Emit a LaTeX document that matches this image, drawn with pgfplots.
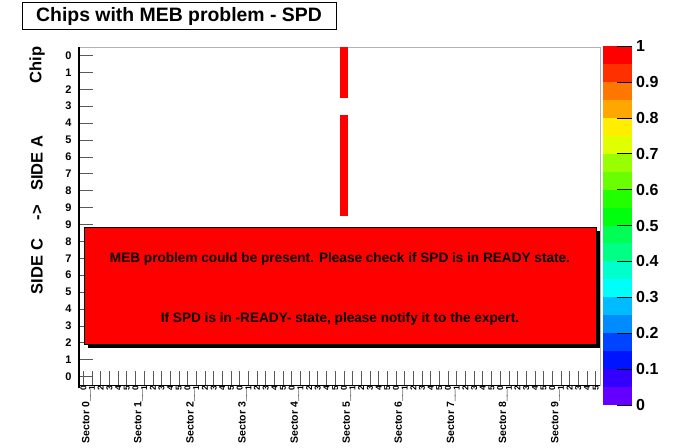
\documentclass[border=0pt]{standalone}
\usepackage{pgfplots}
\pgfplotsset{compat=1.18}
\usepackage{fontspec}
\setmainfont{Liberation Sans}
\usetikzlibrary{shadows}
\definecolor{c0}{RGB}{99,0,255}
\definecolor{c1}{RGB}{51,0,255}
\definecolor{c2}{RGB}{0,20,255}
\definecolor{c3}{RGB}{0,68,255}
\definecolor{c4}{RGB}{0,139,255}
\definecolor{c5}{RGB}{0,187,255}
\definecolor{c6}{RGB}{0,255,251}
\definecolor{c7}{RGB}{0,255,204}
\definecolor{c8}{RGB}{0,255,133}
\definecolor{c9}{RGB}{0,255,85}
\definecolor{c10}{RGB}{0,255,14}
\definecolor{c11}{RGB}{34,255,0}
\definecolor{c12}{RGB}{105,255,0}
\definecolor{c13}{RGB}{153,255,0}
\definecolor{c14}{RGB}{224,255,0}
\definecolor{c15}{RGB}{255,238,0}
\definecolor{c16}{RGB}{255,167,0}
\definecolor{c17}{RGB}{255,119,0}
\definecolor{c18}{RGB}{255,48,0}
\definecolor{c19}{RGB}{255,0,0}
\begin{document}
\begin{tikzpicture}
\useasboundingbox (0pt,0pt) rectangle (677pt,-447pt);
\fill[white] (0pt,0pt) rectangle (677pt,-447pt);
\begin{axis}[
  at={(79pt,-385pt)}, anchor=south west, scale only axis,
  width=521pt, height=338pt,
  xmin=0, xmax=60, ymin=0, ymax=20,
  axis line style={draw=gray!60, line width=0.8pt},
  xtick={0.5,1.5,...,59.5},
  xticklabels={0,1,2,3,4,5,0,1,2,3,4,5,0,1,2,3,4,5,0,1,2,3,4,5,0,1,2,3,4,5,0,1,2,3,4,5,0,1,2,3,4,5,0,1,2,3,4,5,0,1,2,3,4,5,0,1,2,3,4,5},
  ytick={0.5,1.5,...,19.5},
  yticklabels={0,1,2,3,4,5,6,7,8,9,9,8,7,6,5,4,3,2,1,0},
  xtick pos=bottom, ytick pos=left, tick align=inside,
  major tick length=14pt,
  tick style={gray!70!black, line width=0.6pt},
  x tick label style={rotate=90, anchor=east, font=\fontsize{8.5}{9}\selectfont\bfseries, inner sep=1pt},
  y tick label style={font=\fontsize{11}{11}\selectfont\bfseries, xshift=-4pt},
  clip=false,
]
\addplot[fill=c19, draw=none] coordinates {(30,17) (31,17) (31,20) (30,20)} -- cycle;
\addplot[fill=c19, draw=none] coordinates {(30,10) (31,10) (31,16) (30,16)} -- cycle;
\draw[black, line width=1.4pt] ([yshift=-3pt]rel axis cs:0,0) -- (rel axis cs:0,1);
\draw[black, line width=0.8pt] (rel axis cs:0,0) -- (rel axis cs:1,0);
\tikzset{sect/.style={rotate=90, anchor=east, font=\fontsize{10.5}{11}\selectfont\bfseries, inner sep=0pt}}
\node[sect] at ([xshift=3pt,yshift=-5pt]axis cs:0.5,0) {Sector 0\_\_};
\node[sect] at ([xshift=3pt,yshift=-5pt]axis cs:6.5,0) {Sector 1\_\_};
\node[sect] at ([xshift=3pt,yshift=-5pt]axis cs:12.5,0) {Sector 2\_\_};
\node[sect] at ([xshift=3pt,yshift=-5pt]axis cs:18.5,0) {Sector 3\_\_};
\node[sect] at ([xshift=3pt,yshift=-5pt]axis cs:24.5,0) {Sector 4\_\_};
\node[sect] at ([xshift=3pt,yshift=-5pt]axis cs:30.5,0) {Sector 5\_\_};
\node[sect] at ([xshift=3pt,yshift=-5pt]axis cs:36.5,0) {Sector 6\_\_};
\node[sect] at ([xshift=3pt,yshift=-5pt]axis cs:42.5,0) {Sector 7\_\_};
\node[sect] at ([xshift=3pt,yshift=-5pt]axis cs:48.5,0) {Sector 8\_\_};
\node[sect] at ([xshift=3pt,yshift=-5pt]axis cs:54.5,0) {Sector 9\_\_};
\end{axis}
\begin{axis}[
  at={(603pt,-405pt)}, anchor=south west, scale only axis,
  width=29pt, height=359pt,
  xmin=0, xmax=1, ymin=0, ymax=1,
  axis line style={draw=none}, xtick=\empty,
  ytick={0,0.1,0.2,0.3,0.4,0.5,0.6,0.7,0.8,0.9,1},
  yticklabels={0,0.1,0.2,0.3,0.4,0.5,0.6,0.7,0.8,0.9,1},
  ytick pos=right, yticklabel pos=right, tick align=inside,
  major tick length=15pt, axis on top,
  tick style={black, line width=0.6pt},
  y tick label style={font=\fontsize{16}{16}\selectfont\bfseries, anchor=west, inner sep=1pt, xshift=3pt},
  clip=false,
]
\addplot[fill=c0, draw=none] coordinates {(0,0) (1,0) (1,0.05) (0,0.05)} -- cycle;
\addplot[fill=c1, draw=none] coordinates {(0,0.05) (1,0.05) (1,0.1) (0,0.1)} -- cycle;
\addplot[fill=c2, draw=none] coordinates {(0,0.1) (1,0.1) (1,0.15) (0,0.15)} -- cycle;
\addplot[fill=c3, draw=none] coordinates {(0,0.15) (1,0.15) (1,0.2) (0,0.2)} -- cycle;
\addplot[fill=c4, draw=none] coordinates {(0,0.2) (1,0.2) (1,0.25) (0,0.25)} -- cycle;
\addplot[fill=c5, draw=none] coordinates {(0,0.25) (1,0.25) (1,0.3) (0,0.3)} -- cycle;
\addplot[fill=c6, draw=none] coordinates {(0,0.3) (1,0.3) (1,0.35) (0,0.35)} -- cycle;
\addplot[fill=c7, draw=none] coordinates {(0,0.35) (1,0.35) (1,0.4) (0,0.4)} -- cycle;
\addplot[fill=c8, draw=none] coordinates {(0,0.4) (1,0.4) (1,0.45) (0,0.45)} -- cycle;
\addplot[fill=c9, draw=none] coordinates {(0,0.45) (1,0.45) (1,0.5) (0,0.5)} -- cycle;
\addplot[fill=c10, draw=none] coordinates {(0,0.5) (1,0.5) (1,0.55) (0,0.55)} -- cycle;
\addplot[fill=c11, draw=none] coordinates {(0,0.55) (1,0.55) (1,0.6) (0,0.6)} -- cycle;
\addplot[fill=c12, draw=none] coordinates {(0,0.6) (1,0.6) (1,0.65) (0,0.65)} -- cycle;
\addplot[fill=c13, draw=none] coordinates {(0,0.65) (1,0.65) (1,0.7) (0,0.7)} -- cycle;
\addplot[fill=c14, draw=none] coordinates {(0,0.7) (1,0.7) (1,0.75) (0,0.75)} -- cycle;
\addplot[fill=c15, draw=none] coordinates {(0,0.75) (1,0.75) (1,0.8) (0,0.8)} -- cycle;
\addplot[fill=c16, draw=none] coordinates {(0,0.8) (1,0.8) (1,0.85) (0,0.85)} -- cycle;
\addplot[fill=c17, draw=none] coordinates {(0,0.85) (1,0.85) (1,0.9) (0,0.9)} -- cycle;
\addplot[fill=c18, draw=none] coordinates {(0,0.9) (1,0.9) (1,0.95) (0,0.95)} -- cycle;
\addplot[fill=c19, draw=none] coordinates {(0,0.95) (1,0.95) (1,1) (0,1)} -- cycle;
\end{axis}
\node[draw=black, line width=0.6pt, fill=white, minimum width=314pt, minimum height=26.5pt, inner sep=0pt,
  font=\fontsize{19.4}{19}\selectfont\bfseries] at (179pt,-16pt) {Chips with MEB problem - SPD};
\node[rotate=90, font=\fontsize{16.5}{16}\selectfont\bfseries] at (37pt,-215pt) {SIDE C\hspace{19pt}->\hspace{14pt}SIDE A};
\node[rotate=90, font=\fontsize{16.5}{16}\selectfont\bfseries] at (37pt,-65pt) {Chip};
\node[fill=c19, draw=black, line width=0.6pt, minimum width=512pt, minimum height=116.5pt, inner sep=0pt,
  drop shadow={shadow xshift=3.5pt, shadow yshift=-3.5pt, fill=black, opacity=1}] at (340pt,-286pt) {};
\node[align=center, inner sep=0pt, font=\fontsize{13.6}{60}\selectfont\bfseries] at (340pt,-289pt)
  {MEB problem could be present. Please check if SPD is in READY state.\\If SPD is in -READY- state, please notify it to the expert.};
\end{tikzpicture}
\end{document}
